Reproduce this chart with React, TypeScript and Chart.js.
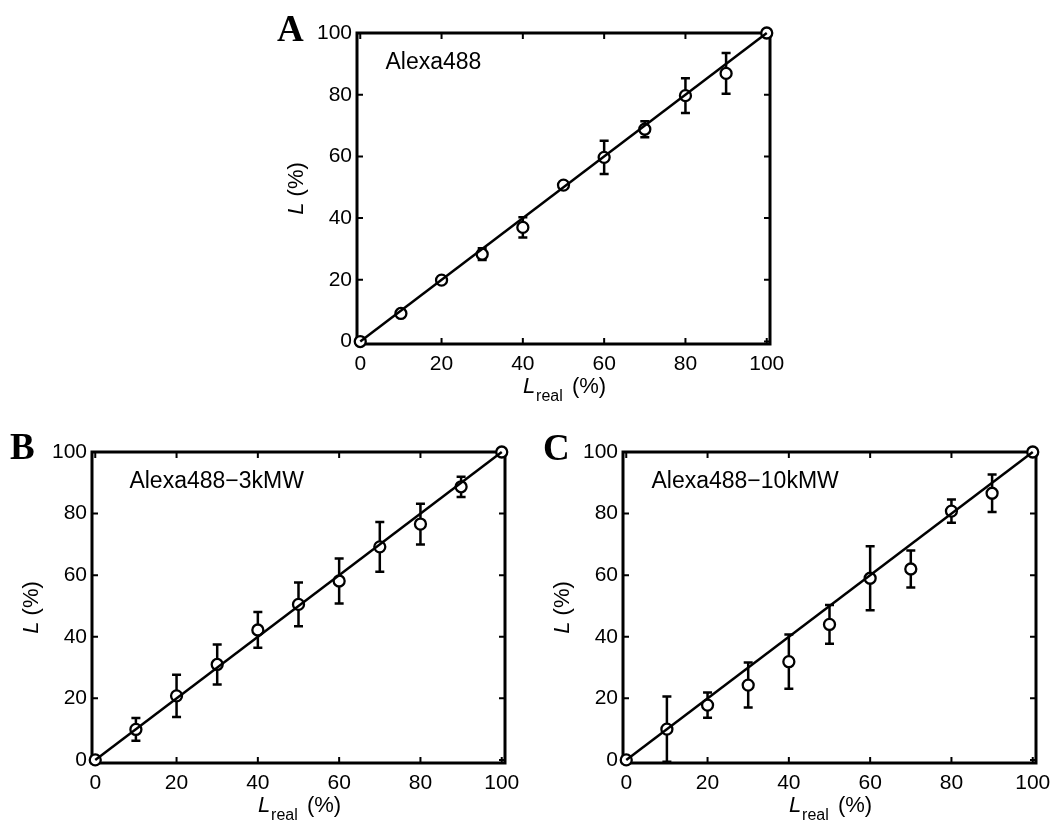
import React, { useEffect, useRef } from 'react';
import { Chart, registerables } from 'chart.js';

Chart.register(...registerables);

// ---- data ----
const xReal = [0, 10, 20, 30, 40, 50, 60, 70, 80, 90, 100];
const tickValues = [0, 20, 40, 60, 80, 100];
const fitX = [0, 100];
const fitY = [0, 100];

const aMean = [0, 9.1, 19.9, 28.3, 37.0, 50.7, 59.7, 68.8, 79.7, 86.9, 100];
const aErr = [0, 0, 0, 1.9, 3.3, 0, 5.4, 2.6, 5.6, 6.6, 0];

const bMean = [0, 9.9, 20.8, 31.0, 42.2, 50.5, 58.1, 69.2, 76.6, 88.7, 100];
const bErr = [0, 3.7, 6.9, 6.5, 5.8, 7.1, 7.3, 8.1, 6.6, 3.3, 0];

const cMean = [0, 10.0, 17.8, 24.3, 31.9, 44.0, 59.0, 62.0, 80.8, 86.6, 100];
const cErr = [0, 10.6, 4.1, 7.3, 8.8, 6.3, 10.4, 6.0, 3.75, 6.1, 0];

const panelLetters = ['A', 'B', 'C'];
const sampleNames = ['Alexa488', 'Alexa488\u22123kMW', 'Alexa488\u221210kMW'];
const nameXs = [6.2, 8.4, 6.2];
const nameY = 88.4;

// ---- layout / style ----
const W = 1052;
const H = 820;
const SANS = '"Liberation Sans", Arial, Helvetica, sans-serif';
const SERIF = '"Liberation Serif", "Times New Roman", serif';
const YW = 40;
const XH = 40;

const layouts = [
  { left: 357, right: 770, top: 33, bottom: 344, yMin: -0.8, letterX: 277, letterY: 41 },
  { left: 92, right: 505, top: 452, bottom: 763, yMin: -1, letterX: 10, letterY: 459 },
  { left: 623, right: 1036, top: 452, bottom: 763, yMin: -1, letterX: 543, letterY: 460 },
];
const means = [aMean, bMean, cMean];
const errs = [aErr, bErr, cErr];

function makeDecor(i: number) {
  const lay = layouts[i];
  const mean = means[i];
  const err = errs[i];
  return {
    id: 'decor' + i,
    beforeDatasetsDraw(chart: any) {
      const { ctx, chartArea: a } = chart;
      const xs = chart.scales.x;
      const ys = chart.scales.y;
      ctx.save();
      ctx.strokeStyle = '#000';
      // error bars
      ctx.lineWidth = 2.5;
      mean.forEach((m, k) => {
        const e = err[k];
        if (!e) return;
        const px = xs.getPixelForValue(xReal[k]);
        const t = ys.getPixelForValue(m + e);
        const b = ys.getPixelForValue(m - e);
        ctx.beginPath();
        ctx.moveTo(px, t);
        ctx.lineTo(px, b);
        ctx.moveTo(px - 4.5, t);
        ctx.lineTo(px + 4.5, t);
        ctx.moveTo(px - 4.5, b);
        ctx.lineTo(px + 4.5, b);
        ctx.stroke();
      });
      // box
      ctx.lineWidth = 3;
      ctx.strokeRect(a.left, a.top, a.right - a.left, a.bottom - a.top);
      // inward ticks
      ctx.lineWidth = 2;
      ctx.beginPath();
      xs.ticks.forEach((t: any) => {
        const p = xs.getPixelForValue(t.value);
        ctx.moveTo(p, a.bottom);
        ctx.lineTo(p, a.bottom - 6);
        ctx.moveTo(p, a.top);
        ctx.lineTo(p, a.top + 6);
      });
      ys.ticks.forEach((t: any) => {
        const p = ys.getPixelForValue(t.value);
        ctx.moveTo(a.left, p);
        ctx.lineTo(a.left + 6, p);
        ctx.moveTo(a.right, p);
        ctx.lineTo(a.right - 6, p);
      });
      ctx.stroke();
      ctx.restore();
    },
    afterDraw(chart: any) {
      const { ctx, chartArea: a } = chart;
      const xs = chart.scales.x;
      const ys = chart.scales.y;
      ctx.save();
      ctx.fillStyle = '#000';
      ctx.textAlign = 'left';
      ctx.textBaseline = 'alphabetic';
      // panel letter
      ctx.font = `bold 37px ${SERIF}`;
      ctx.fillText(panelLetters[i], lay.letterX, lay.letterY);
      // sample name
      ctx.font = `23px ${SANS}`;
      ctx.fillText(sampleNames[i], xs.getPixelForValue(nameXs[i]), ys.getPixelForValue(nameY));
      // y title
      const ital = `italic 22px ${SANS}`;
      const norm = `22px ${SANS}`;
      ctx.save();
      ctx.translate(a.left - 60, (a.top + a.bottom) / 2);
      ctx.rotate(-Math.PI / 2);
      ctx.textBaseline = 'middle';
      ctx.font = ital;
      const wL = ctx.measureText('L').width;
      ctx.font = norm;
      const wP = ctx.measureText(' (%)').width;
      let sx = -(wL + wP) / 2;
      ctx.font = ital;
      ctx.fillText('L', sx, 0);
      ctx.font = norm;
      ctx.fillText(' (%)', sx + wL, 0);
      ctx.restore();
      // x title
      const sub = `16px ${SANS}`;
      ctx.font = ital;
      const wL2 = ctx.measureText('L').width + 1;
      ctx.font = sub;
      const wS = ctx.measureText('real').width;
      ctx.font = norm;
      const wP2 = ctx.measureText(' (%)').width + 3;
      const cx = (a.left + a.right) / 2 + 1;
      const by = a.bottom + 49;
      let x0 = cx - (wL2 + wS + wP2) / 2;
      ctx.font = ital;
      ctx.fillText('L', x0, by);
      ctx.font = sub;
      ctx.fillText('real', x0 + wL2, by + 8);
      ctx.font = norm;
      ctx.fillText(' (%)', x0 + wL2 + wS + 3, by);
      ctx.restore();
    },
  };
}

function Panel({ index }: { index: number }) {
  const ref = useRef<HTMLCanvasElement | null>(null);
  useEffect(() => {
    const lay = layouts[index];
    const mean = means[index];
    const noPad = (s: any) => {
      s.paddingLeft = 0;
      s.paddingRight = 0;
      s.paddingTop = 0;
      s.paddingBottom = 0;
    };
    const chart = new Chart(ref.current as HTMLCanvasElement, {
      type: 'scatter',
      data: {
        datasets: [
          {
            data: fitX.map((v, k) => ({ x: v, y: fitY[k] })),
            showLine: true,
            borderColor: '#000',
            borderWidth: 2.5,
            pointRadius: 0,
            clip: false as any,
          },
          {
            data: xReal.map((v, k) => ({ x: v, y: mean[k] })),
            showLine: false,
            pointRadius: 5.5,
            pointBorderWidth: 2.3,
            pointBackgroundColor: '#fff',
            pointBorderColor: '#000',
            clip: false as any,
          },
        ],
      },
      options: {
        animation: false,
        responsive: false,
        events: [],
        layout: {
          padding: {
            left: lay.left - YW,
            right: W - lay.right,
            top: lay.top,
            bottom: H - lay.bottom - XH,
          },
        },
        plugins: { legend: { display: false }, tooltip: { enabled: false } },
        scales: {
          x: {
            type: 'linear',
            min: -0.8,
            max: 100.8,
            grid: { display: false, drawTicks: false },
            border: { display: false },
            ticks: { color: '#000', font: { family: SANS, size: 21 }, padding: 8, maxRotation: 0 },
            afterBuildTicks: (s: any) => {
              s.ticks = tickValues.map((v) => ({ value: v }));
            },
            afterFit: (s: any) => {
              s.height = XH;
              noPad(s);
            },
          },
          y: {
            type: 'linear',
            min: lay.yMin,
            max: 100,
            grid: { display: false, drawTicks: false },
            border: { display: false },
            ticks: { color: '#000', font: { family: SANS, size: 21 }, padding: 5 },
            afterBuildTicks: (s: any) => {
              s.ticks = tickValues.map((v) => ({ value: v }));
            },
            afterFit: (s: any) => {
              s.width = YW;
              noPad(s);
            },
          },
        },
      } as any,
      plugins: [makeDecor(index)],
    });
    return () => chart.destroy();
  }, [index]);
  return (
    <canvas
      ref={ref}
      width={W}
      height={H}
      style={{ position: 'absolute', left: 0, top: 0, width: W, height: H }}
    />
  );
}

export default function App() {
  return (
    <div style={{ position: 'absolute', left: 0, top: 0, width: W, height: H, background: '#fff' }}>
      <Panel index={0} />
      <Panel index={1} />
      <Panel index={2} />
    </div>
  );
}
